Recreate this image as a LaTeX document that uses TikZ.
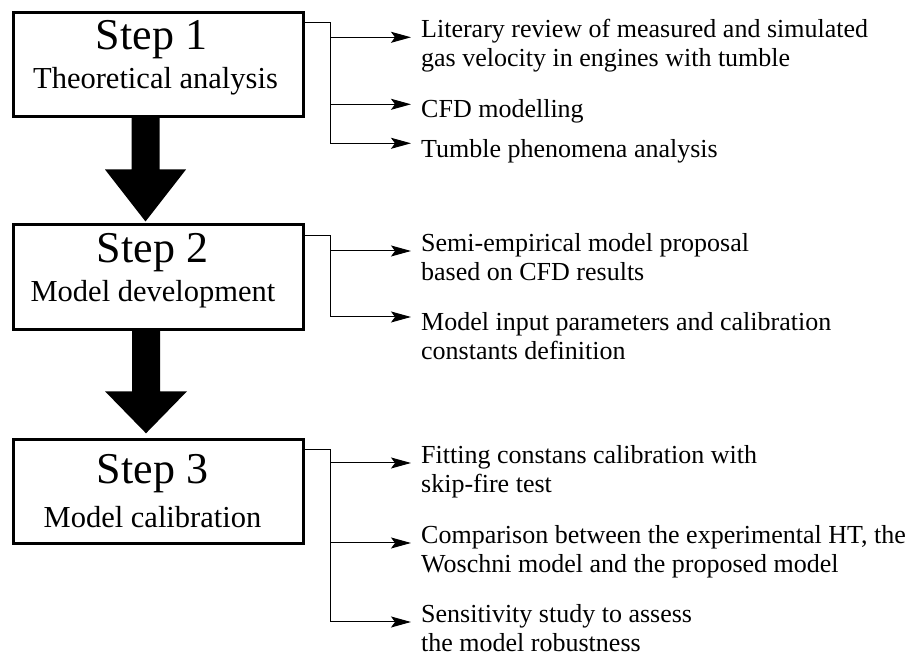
\documentclass[tikz,border=0pt]{standalone}
\usepackage{fontspec}
\setmainfont{Liberation Serif}
\usetikzlibrary{arrows.meta,calc}
\begin{document}
\begin{tikzpicture}[x=1pt,y=1pt,
  stepbox/.style={draw,line width=2.6pt,minimum width=290pt,minimum height=104.5pt,inner sep=0pt,anchor=north},
  steptitle/.style={font=\fontsize{44}{48}\selectfont,anchor=base,inner sep=0pt},
  stepsub/.style={font=\fontsize{30.5}{34}\selectfont,anchor=base,inner sep=0pt},
  item/.style={font=\fontsize{26}{29}\selectfont,anchor=base west,align=left,inner sep=0pt},
  conn/.style={line width=1pt},
  arr/.style={line width=1pt,-{Stealth[length=20pt,width=11pt,inset=4pt]}},
  bigarrow/.style={fill=black}]
\useasboundingbox (0,0) rectangle (924,671);

% step boxes
\node[stepbox] (b1) at (158.5,660) {};
\node[stepbox] (b2) at (158.5,447.5) {};
\node[stepbox] (b3) at (158.5,233) {};

\node[steptitle] (s1) at (151.5,621) {Step 1};
\node[stepsub]   (d1) at (155.5,582) {Theoretical analysis};
\node[steptitle] (s2) at (152.5,408) {Step 2};
\node[stepsub]   (d2) at (153,369) {Model development};
\node[steptitle] (s3) at (152.5,187) {Step 3};
\node[stepsub]   (d3) at (152.5,143) {Model calibration};

% big arrows
\fill[bigarrow] let \p1=($(b1.south)+(-13,0)$), \p2=($(b2.north)+(-13,2)$) in
  (\x1-14pt,\y1) -- (\x1+14pt,\y1) -- (\x1+14pt,\y2+52pt) -- (\x1+40.5pt,\y2+52pt)
  -- (\x2,\y2) -- (\x1-40.5pt,\y2+52pt) -- (\x1-14pt,\y2+52pt) -- cycle;
\fill[bigarrow] let \p1=($(b2.south)+(-12.5,0)$), \p2=($(b3.north)+(-12.5,4.7)$) in
  (\x1-14pt,\y1) -- (\x1+14pt,\y1) -- (\x1+14pt,\y2+42pt) -- (\x1+41pt,\y2+42pt)
  -- (\x2,\y2) -- (\x1-41pt,\y2+42pt) -- (\x1-14pt,\y2+42pt) -- cycle;

% items (base = baseline of the last line)
\node[item] (t11) at (421,604) {Literary review of measured and simulated\\gas velocity in engines with tumble};
\node[item] (t12) at (421,553) {CFD modelling};
\node[item] (t13) at (421,513) {Tumble phenomena analysis};
\node[item] (t21) at (421,390) {Semi-empirical model proposal\\based on CFD results};
\node[item] (t22) at (421,311) {Model input parameters and calibration\\constants definition};
\node[item] (t31) at (421,178) {Fitting constans calibration with\\skip-fire test};
\node[item] (t32) at (421,98) {Comparison between the experimental HT, the\\Woschni model and the proposed model};
\node[item] (t33) at (421,19) {Sensitivity study to assess\\the model robustness};

% arrow end points
\coordinate (e11) at ($(t11.base west)+(-10,29.7)$);
\coordinate (e12) at ($(t12.base west)+(-10,13.7)$);
\coordinate (e13) at ($(t13.base west)+(-10,14.7)$);
\coordinate (e21) at ($(t21.base west)+(-10,30)$);
\coordinate (e22) at ($(t22.base west)+(-10,43)$);
\coordinate (e31) at ($(t31.base west)+(-10,30)$);
\coordinate (e32) at ($(t32.base west)+(-10,30)$);
\coordinate (e33) at ($(t33.base west)+(-10,30)$);

\coordinate (j1) at (330,0);
% connectors
\draw[conn] ($(b1.north east)+(0,-12)$) -| (j1|-e13);
\draw[arr] (j1|-e11) -- (e11);
\draw[arr] (j1|-e12) -- (e12);
\draw[arr] (j1|-e13) -- (e13);

\draw[conn] ($(b2.north east)+(0,-12.5)$) -| (j1|-e22);
\draw[arr] (j1|-e21) -- (e21);
\draw[arr] (j1|-e22) -- (e22);

\draw[conn] ($(b3.north east)+(0,-11.3)$) -| (j1|-e33);
\draw[arr] (j1|-e31) -- (e31);
\draw[arr] (j1|-e32) -- (e32);
\draw[arr] (j1|-e33) -- (e33);
\end{tikzpicture}
\end{document}
